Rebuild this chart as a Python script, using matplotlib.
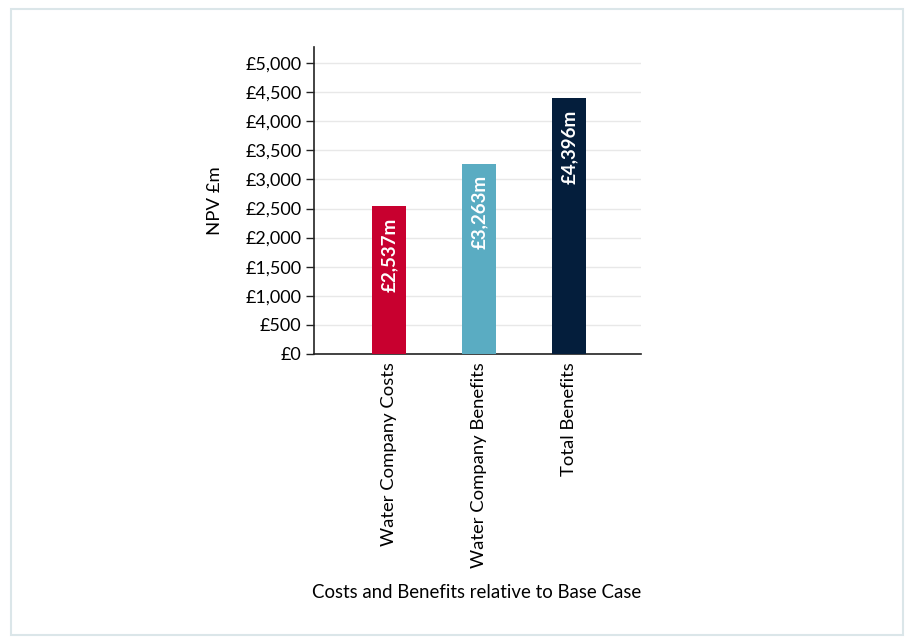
"""NPV bar chart: costs and benefits relative to base case."""

import matplotlib
matplotlib.use("Agg")
import matplotlib.pyplot as plt
from matplotlib.patches import Rectangle

categories = ["Water Company Costs", "Water Company Benefits", "Total Benefits"]
npv_values = [2537, 3263, 4396]
bar_colors = ["#c8002f", "#5aacc2", "#041e3c"]
y_ticks = [0, 500, 1000, 1500, 2000, 2500, 3000, 3500, 4000, 4500, 5000]

plt.rcParams["font.family"] = ["Lato", "DejaVu Sans"]

fig = plt.figure(figsize=(9.06, 6.44), dpi=100)
fig.patches.append(Rectangle((11 / 906, 1 - 635 / 644), 892 / 906, 626 / 644,
                             transform=fig.transFigure, fill=False,
                             edgecolor="#dbe6e9", linewidth=1.5))

ax = fig.add_axes([314 / 906, 1 - 354 / 644, 327 / 906, 307 / 644])
x = range(len(categories))
ax.bar(x, npv_values, width=0.38, color=bar_colors, zorder=3)

for i, v in enumerate(npv_values):
    ax.annotate(f"£{v:,}m", (i, v), xytext=(0, -8), textcoords="offset points",
                rotation=90, ha="center", va="top", color="white",
                fontsize=13.5, fontweight="bold", zorder=4)

ax.set_xlim(-0.833, 2.8)
ax.set_ylim(0, 5275)
ax.set_yticks(y_ticks)
ax.set_yticklabels([f"£{t:,}" for t in y_ticks], fontsize=13)
ax.set_xticks(list(x))
ax.set_xticklabels(categories, rotation=90, fontsize=13.3, va="top")
ax.tick_params(axis="x", length=0, pad=6)
ax.tick_params(axis="y", length=6, width=1, color="#222222", pad=3)
ax.grid(axis="y", color="#e8e8e8", linewidth=1, zorder=0)

for side in ["top", "right"]:
    ax.spines[side].set_visible(False)
for side in ["left", "bottom"]:
    ax.spines[side].set_color("#222222")
    ax.spines[side].set_linewidth(1.2)

ax.set_ylabel("NPV £m", fontsize=13.3, labelpad=16)
fig.text(477 / 906, 1 - 593 / 644, "Costs and Benefits relative to Base Case",
         ha="center", va="center", fontsize=13.4)

fig.savefig("out.png", dpi=100)
plt.close(fig)
